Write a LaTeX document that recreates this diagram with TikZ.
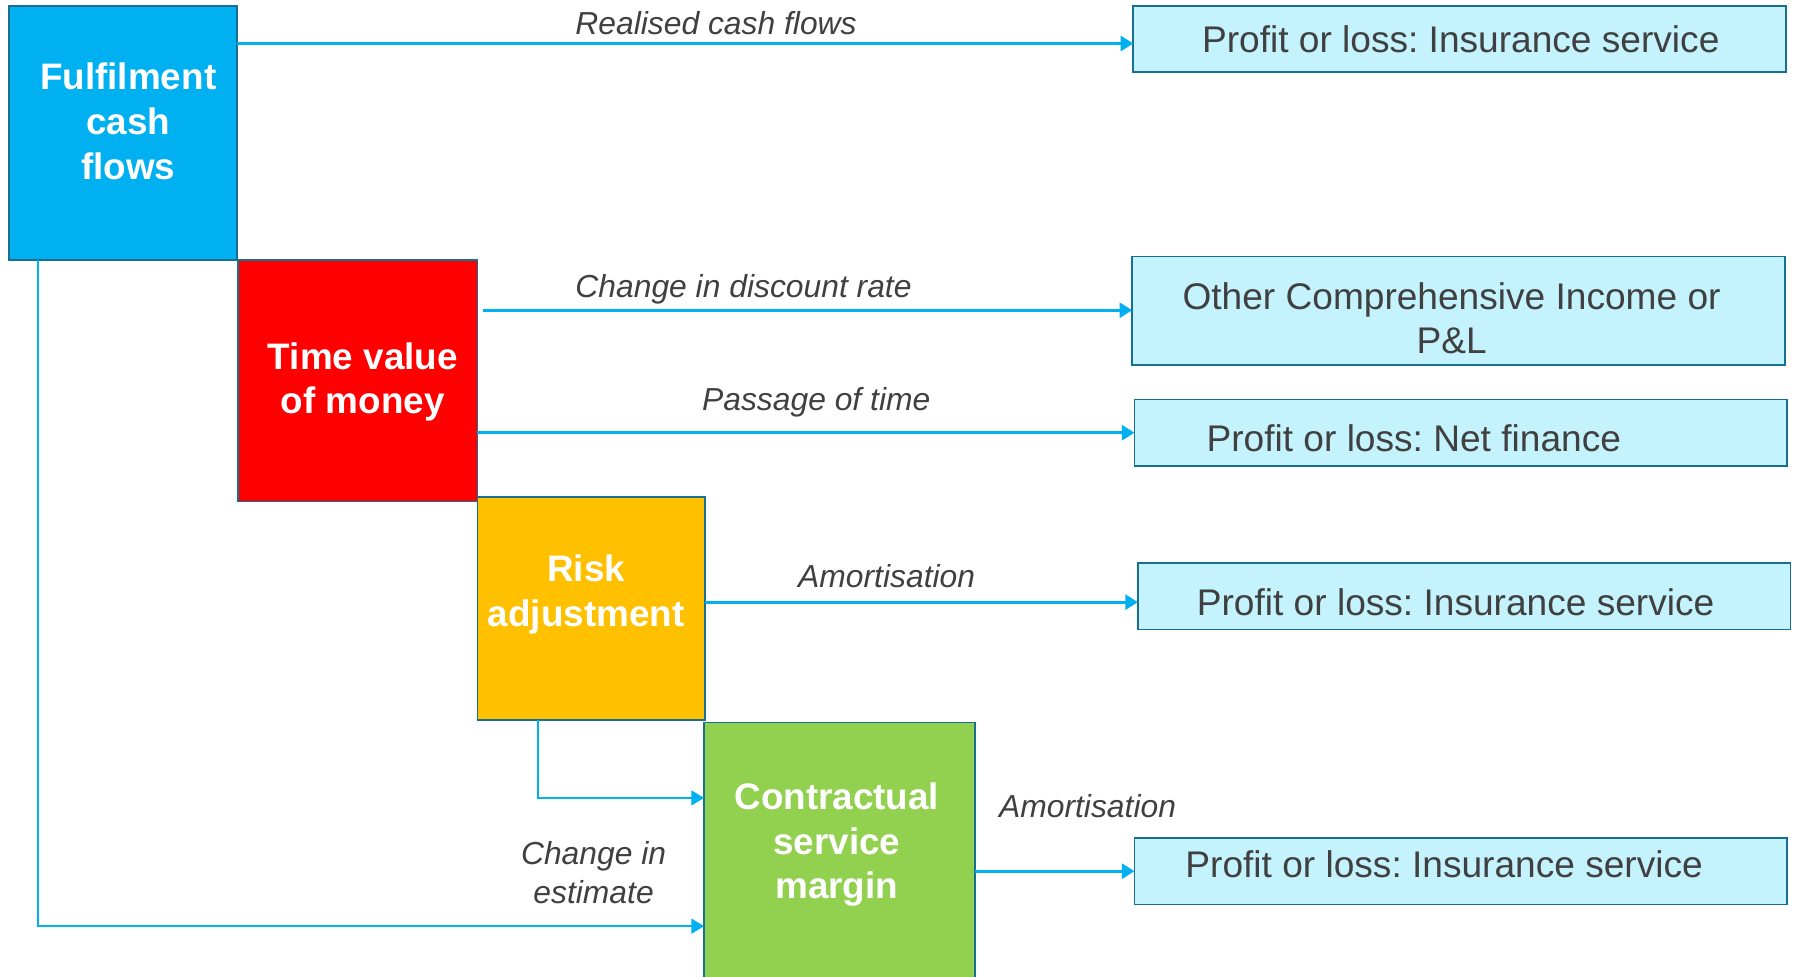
\documentclass[tikz,border=0pt]{standalone}
\usepackage{fontspec}
\setmainfont{Liberation Sans}
\frenchspacing
\usetikzlibrary{arrows.meta}
\definecolor{fcfblue}{HTML}{00B0F0}
\definecolor{tvmred}{HTML}{FF0000}
\definecolor{rayellow}{HTML}{FFC000}
\definecolor{csmgreen}{HTML}{92D050}
\definecolor{destfill}{RGB}{197,243,253}
\definecolor{edgeteal}{HTML}{17708F}
\definecolor{linecyan}{HTML}{00B0F0}
\definecolor{txtgray}{HTML}{404040}
\tikzset{
  blockbox/.style={rectangle, draw=edgeteal, line width=0.75pt, inner sep=0pt, outer sep=0pt, anchor=north west},
  destbox/.style={blockbox, fill=destfill, minimum width=285pt, minimum height=29pt},
  titletext/.style={text=white, align=center, inner sep=0pt, font=\fontsize{16.1pt}{19.5pt}\selectfont\bfseries},
  desttext/.style={text=txtgray, align=center, inner sep=0pt, font=\fontsize{16.2pt}{19pt}\selectfont},
  flowlabel/.style={text=txtgray, align=center, inner sep=0pt, font=\fontsize{13.9pt}{17pt}\selectfont\itshape},
  mainarrow/.style={draw=linecyan, line width=1.3pt, -{Triangle[length=5.5pt,width=6.5pt]}},
  bentarrow/.style={draw=linecyan, line width=0.7pt, -{Triangle[length=5.5pt,width=6.5pt]}}
}
\begin{document}
\begin{tikzpicture}[x=0.5pt,y=-0.5pt]
\useasboundingbox (0,0) rectangle (1568,853);
\clip (0,0) rectangle (1568,853);
% left blocks
\node[blockbox, fill=fcfblue, minimum width=99.5pt, minimum height=111pt] (fcf) at (8,5) {};
\node[blockbox, fill=tvmred, minimum width=104.5pt, minimum height=105.5pt] (tvm) at (208,227) {};
\node[blockbox, fill=rayellow, minimum width=99.5pt, minimum height=97.5pt] (ra) at (417,434) {};
\node[blockbox, fill=csmgreen, minimum width=118.5pt, minimum height=114.5pt] (csm) at (615,631) {};
\node[titletext] (fcft) at (112,106) {Fulfilment\\cash\\flows};
\node[titletext] (tvmt) at (317,333.5) {Time value\\of money};
\node[titletext] (rat) at (512,519.5) {Risk\\adjustment};
\node[titletext] (csmt) at (731,738) {Contractual\\service\\margin};
% destination boxes
\node[destbox] (r1) at (990,5) {};
\node[destbox, minimum height=47.5pt] (r2) at (989,224) {};
\node[destbox] (r3) at (991,349) {};
\node[destbox] (r4) at (994,492) {};
\node[destbox] (r5) at (991,732) {};
\node[desttext] (r1t) at (1276,34) {Profit or loss: Insurance service};
\node[desttext] (r2t) at (1268,278) {Other Comprehensive Income or\\P\&L};
\node[desttext] (r3t) at (1235,383) {Profit or loss: Net finance};
\node[desttext] (r4t) at (1271.5,526) {Profit or loss: Insurance service};
\node[desttext] (r5t) at (1261.5,755) {Profit or loss: Insurance service};
% connectors
\path (fcf.north east) ++(0,33) coordinate (a1s);
\draw[mainarrow] (a1s) -- (a1s -| r1.west);
\path (tvm.north east) ++(5,44) coordinate (a2s);
\draw[mainarrow] (a2s) -- (a2s -| r2.west);
\path (tvm.north east) ++(0,151) coordinate (a3s);
\draw[mainarrow] (a3s) -- (a3s -| r3.west);
\path (ra.north east) ++(0,92) coordinate (a4s);
\draw[mainarrow] (a4s) -- (a4s -| r4.west);
\path (csm.north east) ++(0,130) coordinate (a5s);
\draw[mainarrow] (a5s) -- (a5s -| r5.west);
\path (ra.south west) ++(53,0) coordinate (a6s);
\path (csm.north west) ++(0,66) coordinate (a6e);
\draw[bentarrow] (a6s) |- (a6e);
\path (fcf.south west) ++(25,0) coordinate (a7s);
\path (csm.north west) ++(0,178) coordinate (a7e);
\draw[bentarrow] (a7s) |- (a7e);
% labels
\node[flowlabel] (l1) at (625.5,20) {Realised cash flows};
\node[flowlabel] (l2) at (649.5,253) {Change in discount rate};
\node[flowlabel] (l3) at (713,351) {Passage of time};
\node[flowlabel] (l4) at (774.5,503) {Amortisation};
\node[flowlabel] (l5) at (950,704) {Amortisation};
\node[flowlabel] (l6) at (518.5,762) {Change in\\estimate};
\end{tikzpicture}
\end{document}
